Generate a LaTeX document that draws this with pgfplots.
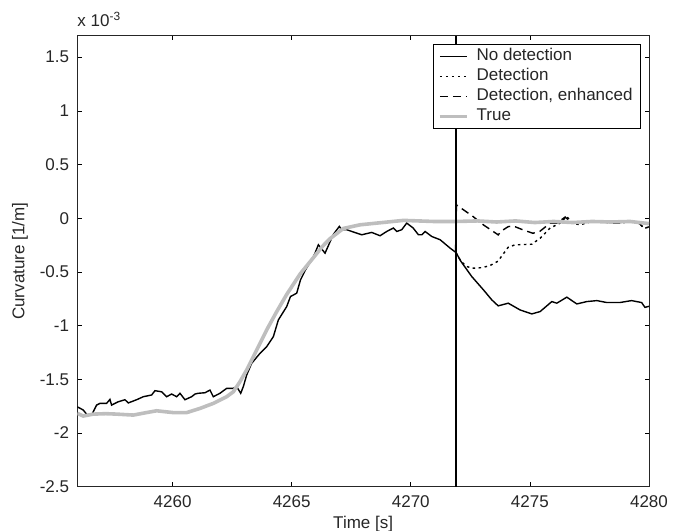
\documentclass[border=0pt]{standalone}
\usepackage{pgfplots}
\pgfplotsset{compat=1.18}
\usepackage{fontspec}
\setmainfont{Liberation Sans}
\definecolor{truegray}{RGB}{190,190,190}
\begin{document}
\fontsize{17bp}{20bp}\selectfont
\begin{tikzpicture}
\begin{axis}[
  scale only axis,
  width=571.7bp, height=451bp,
  xmin=4256, xmax=4280, ymin=-2.5, ymax=1.7,
  xtick={4260,4265,4270,4275,4280},
  ytick={-2.5,-2,-1.5,-1,-0.5,0,0.5,1,1.5},
  yticklabels={-2.5,-2,-1.5,-1,-0.5,0,0.5,1,1.5},
  xticklabels={4260,4265,4270,4275,4280},
  tick align=inside,
  xtick pos=both, ytick pos=both,
  xticklabel pos=lower, yticklabel pos=left,
  major tick length=4.5bp,
  every tick/.style={black, line width=0.7bp},
  axis line style={line width=0.9bp, black!85},
  ticklabel style={font=\fontsize{17bp}{20bp}\selectfont, black!85},
  xticklabel style={inner sep=0pt, anchor=north, yshift=-9bp},
  yticklabel style={inner sep=0pt, anchor=east, xshift=-8bp},
  xlabel={Time [s]},
  ylabel={Curvature [1/m]},
  label style={font=\fontsize{17bp}{20bp}\selectfont, black!85},
  xlabel style={at={(rel axis cs:0.5,0)}, anchor=north, yshift=-29bp, inner sep=0pt},
  ylabel style={at={([xshift=-57.3bp]rel axis cs:0,0.5)}, anchor=center, inner sep=0pt},
  legend style={at={(rel axis cs:1,1)}, anchor=north east, xshift=-8bp, yshift=-8.3bp,
    draw=black, line width=0.8bp, fill=white, inner xsep=5bp, inner ysep=2bp,
    font=\fontsize{17bp}{20bp}\selectfont, column sep=5bp,
    nodes={text height=12.3bp, text depth=3.7bp, inner ysep=2bp, inner xsep=3bp, text=black!85},
    cells={anchor=west}},
  legend image code/.code={\draw[#1] (0bp,0bp) -- (27bp,0bp);},
  clip mode=individual,
]
\addplot[black, line width=1.4bp] coordinates {
(4256.00,-1.756) (4256.25,-1.786) (4256.42,-1.833) (4256.60,-1.833) (4256.81,-1.740)
(4256.95,-1.724) (4257.23,-1.724) (4257.37,-1.687) (4257.44,-1.740) (4257.72,-1.709)
(4258.00,-1.690) (4258.14,-1.720) (4258.49,-1.690) (4258.77,-1.662) (4259.12,-1.646)
(4259.26,-1.606) (4259.54,-1.616) (4259.75,-1.662) (4259.96,-1.637) (4260.17,-1.662)
(4260.31,-1.630) (4260.52,-1.690) (4260.80,-1.662) (4260.94,-1.637) (4261.08,-1.630)
(4261.36,-1.625) (4261.57,-1.600) (4261.71,-1.662) (4261.99,-1.630) (4262.27,-1.584)
(4262.55,-1.584) (4262.69,-1.568) (4262.86,-1.630) (4262.97,-1.568) (4263.11,-1.460)
(4263.32,-1.351) (4263.67,-1.258) (4263.95,-1.196) (4264.23,-1.103) (4264.44,-0.947)
(4264.79,-0.823) (4264.95,-0.729) (4265.21,-0.698) (4265.37,-0.574) (4265.58,-0.480)
(4265.84,-0.387) (4265.98,-0.325) (4266.12,-0.247) (4266.40,-0.325) (4266.75,-0.150)
(4267.00,-0.076) (4267.10,-0.107) (4267.31,-0.107) (4267.94,-0.154) (4268.36,-0.132)
(4268.71,-0.163) (4268.99,-0.123) (4269.27,-0.091) (4269.41,-0.123) (4269.62,-0.107)
(4269.83,-0.045) (4270.10,-0.091) (4270.32,-0.154) (4270.46,-0.154) (4270.60,-0.123)
(4270.88,-0.170) (4271.23,-0.200) (4271.65,-0.278) (4271.90,-0.320) (4272.10,-0.400)
(4272.56,-0.543) (4273.05,-0.667) (4273.40,-0.760) (4273.67,-0.816) (4274.09,-0.791)
(4274.59,-0.854) (4275.08,-0.891) (4275.43,-0.869) (4275.92,-0.776) (4276.13,-0.791)
(4276.55,-0.735) (4276.97,-0.798) (4277.39,-0.776) (4277.81,-0.767) (4278.23,-0.785)
(4278.78,-0.785) (4279.27,-0.767) (4279.69,-0.785) (4279.83,-0.830) (4280.00,-0.820)
};
\addlegendentry{No detection}
\addplot[black, line width=1.4bp, dash pattern=on 2.5bp off 3.5bp] coordinates {
(4271.90,-0.320) (4272.10,-0.400) (4272.35,-0.450) (4272.60,-0.465) (4273.00,-0.460)
(4273.33,-0.440) (4273.66,-0.400) (4274.09,-0.270) (4274.37,-0.248) (4275.08,-0.242)
(4275.43,-0.186) (4275.85,-0.091) (4276.27,-0.045) (4276.55,0.017) (4276.76,-0.045)
(4277.11,-0.061) (4277.53,-0.035) (4277.95,-0.030) (4278.37,-0.045) (4278.78,-0.045)
(4279.20,-0.030) (4279.60,-0.050) (4279.80,-0.095) (4280.00,-0.080)
};
\addlegendentry{Detection}
\addplot[black, line width=1.4bp, dash pattern=on 8bp off 5bp] coordinates {
(4271.88,-0.300) (4271.92,0.124) (4272.62,0.015) (4273.05,-0.062) (4273.47,-0.125)
(4273.67,-0.155) (4273.81,-0.118) (4274.09,-0.078) (4274.30,-0.072) (4274.72,-0.109)
(4275.13,-0.140) (4275.43,-0.120) (4275.85,-0.045) (4276.13,-0.045) (4276.48,0.011)
(4276.76,-0.045) (4277.11,-0.045) (4277.53,-0.030) (4277.95,-0.030) (4278.37,-0.045)
(4278.78,-0.045) (4279.20,-0.030) (4279.60,-0.050) (4279.80,-0.095) (4280.00,-0.080)
};
\addlegendentry{Detection, enhanced}
\addplot[truegray, line width=3.6bp] coordinates {
(4256.00,-1.817) (4256.25,-1.842) (4256.67,-1.824) (4257.20,-1.820) (4257.65,-1.824)
(4258.35,-1.833) (4258.90,-1.810) (4259.33,-1.793) (4260.03,-1.810) (4260.59,-1.810)
(4261.15,-1.771) (4261.71,-1.724) (4262.27,-1.662) (4262.55,-1.616) (4262.83,-1.522)
(4263.11,-1.413) (4263.53,-1.227) (4263.95,-1.040) (4264.37,-0.870) (4264.79,-0.710)
(4265.35,-0.520) (4265.90,-0.370) (4266.30,-0.260) (4266.61,-0.190) (4267.17,-0.095)
(4267.87,-0.061) (4268.85,-0.039) (4269.69,-0.020) (4270.95,-0.030) (4271.93,-0.030)
(4272.80,-0.025) (4273.60,-0.035) (4274.40,-0.025) (4275.20,-0.040) (4276.00,-0.030)
(4276.80,-0.040) (4277.60,-0.030) (4278.40,-0.035) (4279.20,-0.030) (4280.00,-0.050)
};
\addlegendentry{True}
\addplot[black, line width=1.5bp, forget plot] coordinates {(4271.9,-2.5) (4271.9,1.7)};
\coordinate (bl) at (rel axis cs:0,0);
\coordinate (tr) at (rel axis cs:1,1);
\node[anchor=base west, inner sep=0pt, text=black!85, font=\fontsize{17bp}{20bp}\selectfont] at ([yshift=9bp]rel axis cs:0,1) {x 10\textsuperscript{-3}};
\end{axis}
\pgfresetboundingbox
\path ([shift={(-77.3bp,-44.3bp)}]bl) rectangle ([shift={(31bp,35.7bp)}]tr);
\end{tikzpicture}
\end{document}
